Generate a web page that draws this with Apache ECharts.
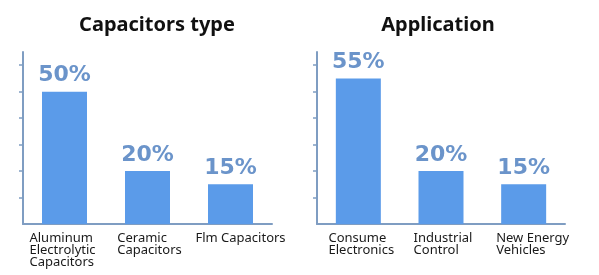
<!DOCTYPE html>
<html><head><meta charset="utf-8">
<script src="https://cdn.jsdelivr.net/npm/echarts@6/dist/echarts.min.js"></script>
<style>html,body{margin:0;padding:0;background:#fff}#c{width:599px;height:275px}</style>
</head><body><div id="c"></div>
<script>
const titles = ['Capacitors type', 'Application'];
const typeCategories = ['Aluminum\nElectrolytic\nCapacitors', 'Ceramic\nCapacitors', 'Flm Capacitors'];
const typeValues = [50, 20, 15];
const appCategories = ['Consume\nElectronics', 'Industrial\nControl', 'New Energy\nVehicles'];
const appValues = [55, 20, 15];
const yTicks = [10, 20, 30, 40, 50, 60];

// label horizontal nudges (style only)
const typeNudge = [-2, 2, 10];
const appNudge = [3, 2, 9];

const axisColor = '#7f9dc2';
const barColor = '#5b9be9';
const labelColor = '#6b94ca';

function xAxis(idx, cats, nudge) {
  return {
    type: 'category', gridIndex: idx,
    data: cats.map((c, i) => ({
      value: c,
      textStyle: {padding: nudge[i] >= 0 ? [0, 0, 0, 2 * nudge[i]] : [0, -2 * nudge[i], 0, 0]}
    })),
    axisLine: {lineStyle: {color: axisColor, width: 2}},
    axisTick: {show: false},
    axisLabel: {
      margin: 8, interval: 0,
      formatter: v => v.split('\n').map(s => '{a|' + s + '}').join('\n'),
      rich: {a: {fontFamily: 'Noto Sans', fontSize: 13, lineHeight: 12, color: '#1a1a1a', align: 'left'}}
    }
  };
}
function yAxis(idx) {
  return {
    type: 'value', gridIndex: idx, min: 0, max: 65,
    axisLine: {show: true, lineStyle: {color: axisColor, width: 2}},
    axisTick: {show: true, inside: false, length: 4, customValues: yTicks, lineStyle: {color: axisColor, width: 1.5}},
    axisLabel: {show: false},
    splitLine: {show: false}
  };
}
function series(idx, vals) {
  return {
    type: 'bar', xAxisIndex: idx, yAxisIndex: idx, data: vals, barWidth: 45,
    itemStyle: {color: barColor},
    label: {show: true, position: 'top', distance: 5, formatter: '{c}%',
      fontFamily: 'DejaVu Sans', fontWeight: 'bold', fontSize: 22, color: labelColor}
  };
}
const chart = echarts.init(document.getElementById('c'));
chart.setOption({
  animation: false,
  title: [
    {text: titles[0], left: 157, top: 15, textAlign: 'center', padding: 0,
     textStyle: {fontFamily: 'Noto Sans', fontWeight: 'bold', fontSize: 20, color: '#111'}},
    {text: titles[1], left: 438, top: 15, textAlign: 'center', padding: 0,
     textStyle: {fontFamily: 'Noto Sans', fontWeight: 'bold', fontSize: 20, color: '#111'}}
  ],
  grid: [
    {left: 23, right: 327, top: 52, bottom: 51},
    {left: 317, right: 34, top: 52, bottom: 51}
  ],
  xAxis: [xAxis(0, typeCategories, typeNudge), xAxis(1, appCategories, appNudge)],
  yAxis: [yAxis(0), yAxis(1)],
  series: [series(0, typeValues), series(1, appValues)]
});
</script></body></html>
